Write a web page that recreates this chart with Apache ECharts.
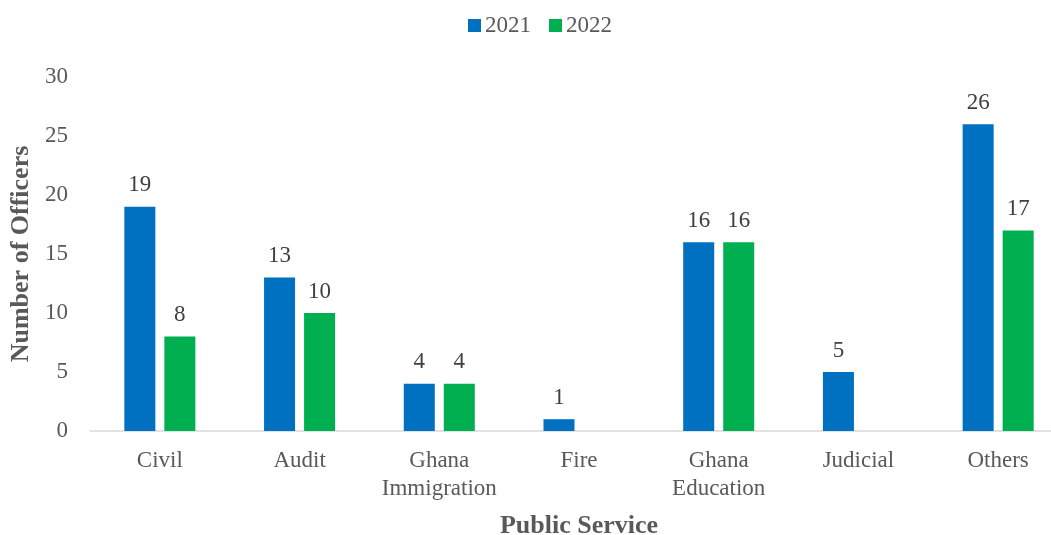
<!DOCTYPE html>
<html>
<head>
<meta charset="utf-8">
<script src="https://cdn.jsdelivr.net/npm/echarts@6/dist/echarts.min.js"></script>
<style>
  html, body { margin: 0; padding: 0; background: #fff; }
  #chart { width: 1051px; height: 535px; }
</style>
</head>
<body>
<div id="chart"></div>
<script>
// Officers by public service, 2021 vs 2022
const categories = ['Civil', 'Audit', 'Ghana\nImmigration', 'Fire', 'Ghana\nEducation', 'Judicial', 'Others'];
const officers2021 = [19, 13, 4, 1, 16, 5, 26];
const officers2022 = [8, 10, 4, null, 16, null, 17];
const yTicks = { min: 0, max: 30, interval: 5 };

const serif = '"Liberation Serif", "Times New Roman", serif';

const labelStyle = {
  show: true,
  position: 'top',
  distance: 10,
  color: '#404040',
  fontFamily: serif,
  fontSize: 23
};

const chart = echarts.init(document.getElementById('chart'), null, { renderer: 'canvas' });
chart.setOption({
  animation: false,
  textStyle: { fontFamily: serif },
  legend: {
    top: 9,
    left: 463,
    itemWidth: 13,
    itemHeight: 13,
    itemGap: 18,
    icon: 'rect',
    textStyle: { color: '#595959', fontSize: 23, fontFamily: serif, padding: [0, 0, 0, -1] },
    data: ['2021', '2022']
  },
  grid: { left: 90, top: 77, width: 978, bottom: 104, outerBoundsMode: 'none', containLabel: false },
  xAxis: {
    type: 'category',
    data: categories,
    name: 'Public Service',
    nameLocation: 'middle',
    nameGap: 82,
    nameTextStyle: { color: '#595959', fontSize: 26, fontWeight: 'bold', fontFamily: serif },
    axisLine: { lineStyle: { color: '#d9d9d9', width: 1.5 } },
    axisTick: { show: false },
    axisLabel: { color: '#595959', fontSize: 23, fontFamily: serif, lineHeight: 28, margin: 16, interval: 0 }
  },
  yAxis: {
    type: 'value',
    min: yTicks.min,
    max: yTicks.max,
    interval: yTicks.interval,
    name: 'Number of Officers',
    nameLocation: 'middle',
    nameGap: 53,
    nameTextStyle: { color: '#595959', fontSize: 26, fontWeight: 'bold', fontFamily: serif },
    axisLine: { show: false },
    axisTick: { show: false },
    splitLine: { show: false },
    axisLabel: { color: '#595959', fontSize: 23, fontFamily: serif, margin: 22 }
  },
  series: [
    {
      name: '2021',
      type: 'bar',
      data: officers2021,
      barWidth: '22.2%',
      barGap: '29%',
      itemStyle: { color: '#0070C0' },
      label: labelStyle
    },
    {
      name: '2022',
      type: 'bar',
      data: officers2022,
      barWidth: '22.2%',
      itemStyle: { color: '#00B050' },
      label: labelStyle
    }
  ]
});
</script>
</body>
</html>
